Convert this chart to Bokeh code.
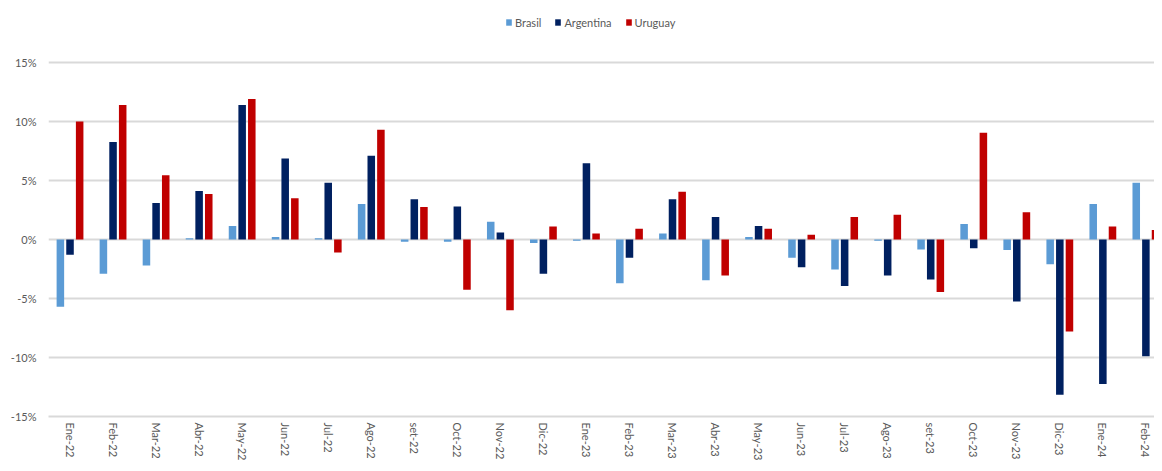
from bokeh.plotting import figure
from bokeh.models import (ColumnDataSource, Range1d, FixedTicker, Legend, LegendItem)
from bokeh.transform import dodge
from bokeh.embed import file_html
from bokeh.resources import INLINE

categories = ["Ene-22", "Feb-22", "Mar-22", "Abr-22", "May-22", "Jun-22", "Jul-22", "Ago-22",
              "set-22", "Oct-22", "Nov-22", "Dic-22", "Ene-23", "Feb-23", "Mar-23", "Abr-23",
              "May-23", "Jun-23", "Jul-23", "Ago-23", "set-23", "Oct-23", "Nov-23", "Dic-23",
              "Ene-24", "Feb-24"]
brasil = [-5.7, -2.9, -2.2, 0.1, 1.15, 0.2, 0.1, 3.0, -0.2, -0.2, 1.5, -0.3, -0.1, -3.7,
          0.5, -3.45, 0.2, -1.55, -2.55, -0.1, -0.85, 1.3, -0.9, -2.1, 3.0, 4.8]
argentina = [-1.3, 8.25, 3.1, 4.1, 11.4, 6.85, 4.8, 7.1, 3.4, 2.8, 0.6, -2.9, 6.45, -1.55,
             3.4, 1.9, 1.15, -2.35, -3.95, -3.05, -3.4, -0.75, -5.25, -13.15, -12.25, -9.9]
uruguay = [10.0, 11.4, 5.45, 3.85, 11.9, 3.5, -1.1, 9.3, 2.75, -4.25, -6.0, 1.1, 0.5, 0.9,
           4.05, -3.05, 0.9, 0.4, 1.9, 2.1, -4.45, 9.05, 2.3, -7.8, 1.1, 0.8]
y_ticks = [-15, -10, -5, 0, 5, 10, 15]

src = ColumnDataSource(dict(idx=list(range(len(categories))), brasil=brasil,
                            argentina=argentina, uruguay=uruguay))

FONT = "Lato"
TXT = "#595959"

# frame extends above the 15% line to leave room for the legend (as in the original)
p = figure(width=1154, height=463, output_backend="svg", toolbar_location=None,
           x_range=Range1d(-0.5, 25.2), y_range=Range1d(-15, 19.4),
           min_border_left=48, min_border_right=0, min_border_top=10, min_border_bottom=47)
p.outline_line_color = None
p.background_fill_color = "white"
p.border_fill_color = "white"

off = 0.224
w = 0.175
r1 = p.vbar(x=dodge("idx", -off, range=p.x_range), top="brasil", bottom=0, width=w,
            source=src, fill_color="#5B9BD5", line_color=None)
r2 = p.vbar(x=dodge("idx", 0, range=p.x_range), top="argentina", bottom=0, width=w,
            source=src, fill_color="#002060", line_color=None)
r3 = p.vbar(x=dodge("idx", off, range=p.x_range), top="uruguay", bottom=0, width=w,
            source=src, fill_color="#C00000", line_color=None)

p.xaxis.ticker = FixedTicker(ticks=list(range(len(categories))))
p.xaxis.major_label_overrides = {i: c for i, c in enumerate(categories)}
p.xaxis.major_label_orientation = "vertical"
p.xaxis.major_tick_line_color = None
p.xaxis.major_tick_out = 0
p.xaxis.major_tick_in = 0
p.xaxis.minor_tick_line_color = None
p.xaxis.axis_line_color = "#D9D9D9"
p.xaxis.axis_line_width = 2
p.xaxis.major_label_text_font = FONT
p.xaxis.major_label_text_font_size = "11px"
p.xaxis.major_label_text_color = TXT
p.xaxis.major_label_standoff = 6

p.yaxis.ticker = FixedTicker(ticks=y_ticks)
p.yaxis.major_label_overrides = {t: f"{t}%" for t in y_ticks}
p.yaxis.axis_line_color = None
p.yaxis.major_tick_line_color = None
p.yaxis.major_tick_out = 0
p.yaxis.major_tick_in = 0
p.yaxis.minor_tick_line_color = None
p.yaxis.major_label_text_font = FONT
p.yaxis.major_label_text_font_size = "11px"
p.yaxis.major_label_text_color = TXT
p.yaxis.major_label_standoff = 12

p.xgrid.grid_line_color = None
p.ygrid.ticker = FixedTicker(ticks=y_ticks)
p.ygrid.grid_line_color = "#D9D9D9"
p.ygrid.grid_line_width = 2

legend = Legend(items=[LegendItem(label="Brasil", renderers=[r1]),
                       LegendItem(label="Argentina", renderers=[r2]),
                       LegendItem(label="Uruguay", renderers=[r3])],
                orientation="horizontal", location=(457, 387),
                glyph_width=7, glyph_height=8, label_standoff=3, spacing=13,
                padding=0, margin=0, border_line_color=None, background_fill_alpha=0,
                label_text_font=FONT, label_text_font_size="11px", label_text_color=TXT,
                label_height=14)
p.add_layout(legend)

open("out.html", "w").write(file_html(p, INLINE))
